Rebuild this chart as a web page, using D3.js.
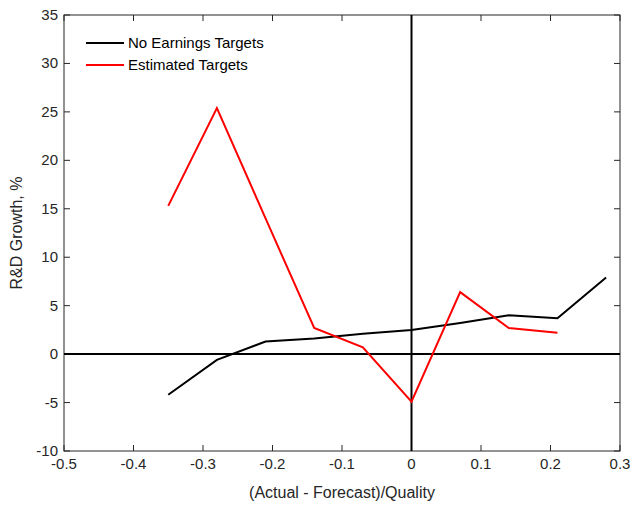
<!DOCTYPE html>
<html><head><meta charset="utf-8">
<script src="https://cdn.jsdelivr.net/npm/d3@7"></script>
<style>body{margin:0;background:#fff}svg{font-family:"Liberation Sans",Arial,sans-serif}</style>
</head><body><div id="chart"></div>
<script>
const xVals = [-0.35, -0.28, -0.21, -0.14, -0.07, 0, 0.07, 0.14, 0.21, 0.28];
const noTargets = [-4.2, -0.6, 1.3, 1.6, 2.1, 2.5, 3.2, 4.0, 3.7, 7.9];
const estTargets = [15.3, 25.4, 14.0, 2.7, 0.7, -4.9, 6.4, 2.7, 2.2];
const xTicks = [-0.5, -0.4, -0.3, -0.2, -0.1, 0, 0.1, 0.2, 0.3];
const yTicks = [-10, -5, 0, 5, 10, 15, 20, 25, 30, 35];

const W = 634, H = 508;
const m = {left: 64, right: 14, top: 15, bottom: 57};
const svg = d3.select("#chart").append("svg").attr("width", W).attr("height", H);
const x = d3.scaleLinear().domain([-0.5, 0.3]).range([m.left, W - m.right]);
const y = d3.scaleLinear().domain([-10, 35]).range([H - m.bottom, m.top]);

const g = svg.append("g");
// ticks inside
const tl = 6;
xTicks.forEach(t => {
  g.append("line").attr("x1", x(t)).attr("x2", x(t)).attr("y1", y(-10)).attr("y2", y(-10) - tl).attr("stroke", "#262626");
  g.append("line").attr("x1", x(t)).attr("x2", x(t)).attr("y1", y(35)).attr("y2", y(35) + tl).attr("stroke", "#262626");
  g.append("text").attr("x", x(t)).attr("y", y(-10) + 18).attr("text-anchor", "middle").attr("font-size", 15).attr("fill", "#262626").text(t);
});
yTicks.forEach(t => {
  g.append("line").attr("y1", y(t)).attr("y2", y(t)).attr("x1", x(-0.5)).attr("x2", x(-0.5) + tl).attr("stroke", "#262626");
  g.append("line").attr("y1", y(t)).attr("y2", y(t)).attr("x1", x(0.3)).attr("x2", x(0.3) - tl).attr("stroke", "#262626");
  g.append("text").attr("x", x(-0.5) - 6).attr("y", y(t) + 5).attr("text-anchor", "end").attr("font-size", 15).attr("fill", "#262626").text(t);
});
g.append("rect").attr("x", m.left).attr("y", m.top).attr("width", W - m.left - m.right).attr("height", H - m.top - m.bottom)
  .attr("fill", "none").attr("stroke", "#262626");

// zero lines
g.append("line").attr("x1", x(-0.5)).attr("x2", x(0.3)).attr("y1", y(0)).attr("y2", y(0)).attr("stroke", "#000").attr("stroke-width", 2);
g.append("line").attr("x1", x(0)).attr("x2", x(0)).attr("y1", y(-10)).attr("y2", y(35)).attr("stroke", "#000").attr("stroke-width", 2);

const line = d3.line().x((d, i) => x(xVals[i])).y(d => y(d));
g.append("path").datum(noTargets).attr("d", line).attr("fill", "none").attr("stroke", "#000").attr("stroke-width", 2);
g.append("path").datum(estTargets).attr("d", line).attr("fill", "none").attr("stroke", "#ff0000").attr("stroke-width", 2);

// legend
const leg = [["No Earnings Targets", "#000"], ["Estimated Targets", "#ff0000"]];
leg.forEach((d, i) => {
  const ly = 43 + i * 22;
  g.append("line").attr("x1", 86).attr("x2", 124).attr("y1", ly).attr("y2", ly).attr("stroke", d[1]).attr("stroke-width", 2);
  g.append("text").attr("x", 128).attr("y", ly + 5).attr("font-size", 15).attr("fill", "#000").text(d[0]);
});

svg.append("text").attr("x", x(-0.1)).attr("y", 498).attr("text-anchor", "middle").attr("font-size", 16).attr("fill", "#262626").text("(Actual - Forecast)/Quality");
svg.append("text").attr("transform", `translate(22,${y(12.5)}) rotate(-90)`).attr("text-anchor", "middle").attr("font-size", 16).attr("fill", "#262626").text("R&D Growth, %");
</script></body></html>
